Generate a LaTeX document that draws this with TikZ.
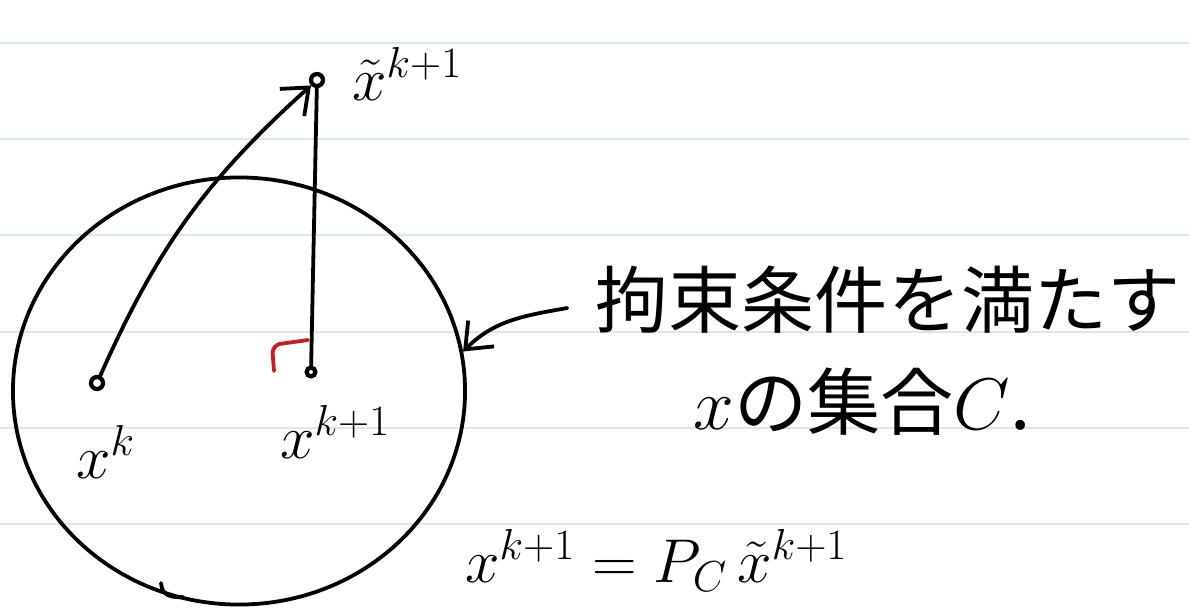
\RequirePackage{fix-cm}
\documentclass[tikz,border=0pt]{standalone}
\usepackage{amsmath,amssymb}
\usepackage{fontspec}
\usepackage{xcolor}
\usetikzlibrary{shapes,arrows,arrows.meta,positioning,calc}
\newfontfamily\jpfont{Noto Sans CJK JP}
\definecolor{ruleblue}{RGB}{214,231,245}
\definecolor{markred}{RGB}{200,30,35}

\begin{document}
\begin{tikzpicture}[
    x=0.025cm, y=-0.025cm,
    pen/.style={line width=2.7pt, line cap=round, line join=round},
    pt/.style={circle, draw, line width=3pt, minimum size=0.3cm, inner sep=0pt},
    ruled/.style={ruleblue, line width=2pt},
    lbl/.style={font=\fontsize{44}{48}\selectfont, inner sep=0pt},
    jp/.style={font=\fontsize{52}{60}\selectfont\jpfont, inner sep=0pt},
    >={Straight Barb[length=16pt, width=26pt]}
]
\useasboundingbox (0,0) rectangle (1189,607);

% ruled paper
\foreach \y in {43,139,235,332,428,524}
    \draw[ruled] (0,\y) -- (1189,\y);

% the set C
\node[draw, ellipse, pen, minimum width=11.3cm, minimum height=10.675cm, inner sep=0pt] (setC) at (239,391) {};
\draw[pen] (161,583) .. controls (162,595) and (170,598) .. (183,597);

% points
\node[pt] (xt) at (317,80) {};
\node[pt] (xk) at (97,383) {};
\node[pt, minimum size=0.22cm] (xk1) at (311,372) {};

\node[lbl, anchor=base west] (xtlbl) at (352,100) {$\tilde{x}^{k+1}$};
\node[lbl, anchor=base west] (xklbl) at (76,478) {$x^{k}$};
\node[lbl, anchor=base west] (xk1lbl) at (280,458) {$x^{k+1}$};

\draw[pen, ->] (xk) to[bend left=12] (xt);
\draw[pen] (xk1) -- (xt);
\draw[pen, markred, rounded corners=6pt] ($(xk1)+(-3,-32)$) -- ++(-36,5) -- ++(2,26);

% text on the right
\node[jp] (cond) at (888,300) {拘束条件を満たす};
\node[jp] (setlbl) at (862,402) {$x$の集合$C$.};
\node[lbl, anchor=base west] (proj) at (465,582) {$x^{k+1} = P_C\,\tilde{x}^{k+1}$};

\draw[pen, ->] ([xshift=-0.7cm, yshift=-0.2cm]cond.west) to[out=190, in=45] (setC.10);
\end{tikzpicture}
\end{document}
